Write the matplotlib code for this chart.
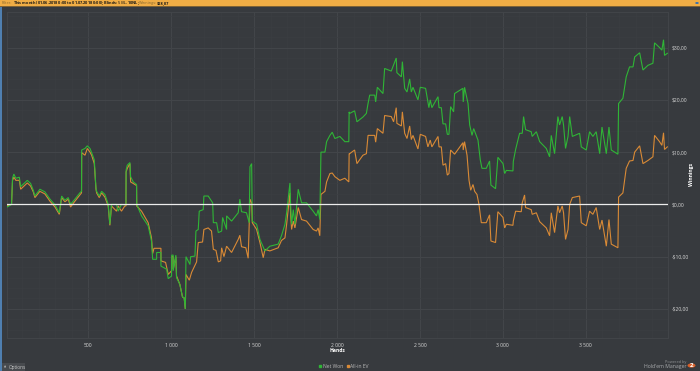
import matplotlib
matplotlib.use("Agg")
import matplotlib.pyplot as plt
from matplotlib.lines import Line2D
from matplotlib.patches import Rectangle, Circle
from matplotlib.ticker import MultipleLocator, FuncFormatter

net_hands = [7,11,37,43,51,63,84,92,112,132,152,168,178,208,238,269,299,325,339,359,379,393,419,449,459,
 460,480,494,510,520,536,546,550,566,580,600,620,630,640,670,680,700,720,727,728,735,751,755,771,791,
 792,821,861,881,888,912,912,938,938,972,982,1002,1003,1012,1012,1028,1032,1052,1068,1078,1085,1089,1113,1117,1143,
 1149,1163,1169,1193,1197,1223,1250,1254,1274,1284,1304,1310,1334,1334,1364,1404,1414,1424,1454,1470,1475,1485,1489,1515,1535,
 1565,1595,1645,1665,1686,1696,1716,1720,1726,1736,1746,1766,1786,1816,1856,1876,1886,1896,1903,1927,1937,1957,1971,1987,2017,
 2047,2071,2073,2076,2106,2120,2156,2177,2187,2197,2227,2233,2243,2277,2287,2327,2357,2361,2388,2394,2408,2422,2438,2448,2458,
 2488,2502,2534,2554,2562,2572,2609,2615,2629,2639,2655,2665,2675,2685,2703,2709,2759,2761,2769,2790,2800,2814,2824,2850,2864,
 2874,2900,2920,2928,2956,2970,3001,3011,3021,3061,3063,3077,3101,3117,3125,3137,3171,3177,3202,3222,3262,3282,3292,3312,3332,
 3342,3358,3366,3378,3393,3403,3419,3463,3473,3503,3523,3543,3563,3584,3598,3624,3640,3654,3694,3698,3724,3734,3744,3764,3785,
 3795,3825,3845,3875,3905,3915,3945,3959,3969,3975,3992]
net_won = [-0.3,-0.5,0,5,5.8,5,5.2,3.4,4,4.6,4,2.7,1.6,2.9,2.4,1,-0.1,-1.6,1.6,0.8,1.3,0,1,2.2,2.5,
 10.4,10.7,11.2,10.7,9.9,8.5,3.2,2.5,1.6,2.5,1.9,0,-3.8,0,0,-1.3,0,-0.1,0,6.6,7.5,8,5.3,4.3,3.8,
 0,-2.2,-4.1,-7,-10.5,-10.5,-9.2,-9.2,-11.8,-12.4,-14.2,-13.7,-9.7,-9.7,-12.7,-9.7,-14,-15.3,-17.7,-17.9,-20,-10,-11.5,-10,-9.9,
 -5.1,-4.8,-1.3,-1,1.6,1.6,0.3,-3.5,-3.5,-5.4,-5.1,-2.5,-4.8,-2.2,-3.2,-1.6,1,-1.4,-1.6,-3.5,7.2,7.8,-3.2,-3.8,-6.7,
 -8.9,-8,-7.6,-6,-3.8,-1.6,4.1,0,-3.8,-1,-3.8,2.9,0.3,0.3,-1.3,-2.2,-1,-2.9,10,10,12,13.2,13.8,12.6,13,
 12,12,17.7,17.4,17.9,15.8,16.7,17.4,19.3,20.9,20.9,19.6,22.4,21.2,26,25.5,28,25.2,24.4,27.3,22.2,21.5,24,21.5,22.4,
 20,22.4,22.2,18.5,20,18.5,20.6,18.5,18.5,15.4,15.4,13.4,13.4,18.7,17.7,21.2,22.2,19.6,22.4,19.3,15.2,13.2,14.5,12.3,8.5,
 6.9,6.9,8.3,3.7,3,9,7.8,5.9,6.5,6.4,8.2,10.5,13.6,13.6,16.8,14.3,13.9,13,13.9,12,10.7,9.1,13.2,9.7,16.8,
 15.2,16.8,15.2,10.7,13,16.8,13,13.6,11,10.4,13.9,13,13.9,9.7,14.8,9.7,14.8,10.4,9.6,19.3,20.3,22.4,24.4,26.3,26.3,
 28.2,29,25.7,26.6,27,30.9,30,29.5,31.5,28.5,28.9]

ev_hands = [7,37,43,51,63,84,92,112,132,152,168,178,208,238,269,299,325,339,359,379,393,419,449,459,
 460,480,494,510,520,536,546,550,566,580,600,620,630,640,670,680,700,720,727,728,735,751,755,771,791,
 792,821,861,881,888,896,938,938,966,982,1002,1003,1012,1012,1028,1032,1052,1068,1078,1085,1089,1109,1123,1153,1163,
 1189,1197,1223,1243,1254,1270,1284,1298,1304,1318,1334,1364,1404,1414,1424,1450,1464,1475,1485,1489,1515,1535,1555,1565,1595,
 1645,1665,1686,1696,1716,1720,1726,1736,1746,1766,1786,1816,1856,1876,1886,1896,1903,1927,1937,1957,1971,1987,2017,2047,2071,
 2073,2076,2106,2120,2156,2177,2187,2227,2233,2243,2277,2287,2327,2341,2357,2361,2388,2394,2408,2422,2438,2448,2458,2488,2502,
 2534,2548,2562,2572,2609,2615,2629,2639,2655,2665,2675,2685,2709,2759,2761,2769,2784,2796,2806,2820,2830,2844,2856,2870,2900,
 2920,2928,2956,2970,3001,3011,3021,3061,3063,3077,3111,3117,3131,3137,3171,3177,3202,3222,3262,3282,3292,3312,3332,3342,3358,
 3366,3378,3393,3403,3419,3463,3473,3503,3523,3543,3563,3584,3598,3624,3640,3654,3694,3698,3724,3734,3744,3764,3785,3795,3825,
 3845,3875,3905,3915,3945,3959,3969,3975,3992]
all_in_ev = [-0.3,0,4.6,5.2,4.6,4.6,2.9,3.5,4.1,3.5,2.4,1.3,2.5,2,0.6,-0.5,-1.9,1.3,0.5,1,-0.5,0.6,1.8,2.2,
 9.9,9.4,10.7,10,9.4,7.8,3,2.2,1.3,2.2,1.4,-0.3,-4,-0.3,-1.3,-0.3,-1.3,-0.3,-0.3,6.2,6.9,7.8,4.3,4,3.6,
 -0.3,-1.3,-3.5,-6.4,-9.4,-8.4,-8.4,-10.8,-11.1,-13.4,-12.7,-10,-10,-12.4,-10,-13.7,-15.3,-17.7,-17.9,-20,-13.4,-14.5,-13,-11,-7.3,
 -7.2,-4.8,-4.5,-5.1,-8.6,-8.8,-11,-10.8,-8.3,-10,-8,-9.2,-6.7,-5.9,-8.1,-8.3,-10.3,1,0.3,-3.5,-4.8,-7.3,-10.2,-8.6,-8.9,
 -8.3,-6.9,-6.4,-3.8,2.2,-1.9,-4.8,-3.2,-4.5,-0.6,-2.9,-3.2,-4.8,-5.1,-4.5,-6,1.9,2.5,4.3,5.9,6,5.3,4.6,5,4.3,
 9.7,9.7,10.4,7.8,9.4,9.7,13.2,13.2,11.9,14.5,13.6,17,16.8,15.8,18.5,15.5,15,17.7,13.6,12.6,15,12.4,13.2,10.6,13.4,
 13,11,12.3,11,13,11,11,7.5,7.8,5.6,5.9,10.4,9.6,11.8,10.4,12,9.4,4.6,2.7,3.8,2.5,1.9,0,-3.5,-3.5,
 -2,-7,-7.3,-1.4,-2.5,-4.5,-3.8,-4,-3.2,-1.3,-1.4,0.3,1.8,-0.6,-1,-1.9,-1.6,-3.3,-4.5,-6,-1.6,-5.4,-0.3,-1.6,-0.3,
 -1.6,-6.7,-4.8,0,1.3,1.6,-3.5,-4.1,-1.3,-1.9,-0.6,-4.8,-3,-8,-2.9,-7.6,-8.3,1.4,2.2,4.6,6.9,8.3,8.4,10,11.2,
 7.8,8.4,9.1,13.2,12,11.3,13.7,10.5,11]

x_ticks = [500, 1000, 1500, 2000, 2500, 3000, 3500]
y_ticks = [-20, -10, 0, 10, 20, 30]

BG = "#373a3e"
GREEN = "#2fb536"
ORANGE = "#d98a36"
W, H = 700, 371
plt.rcParams["font.family"] = ["Open Sans", "DejaVu Sans"]

fig = plt.figure(figsize=(7, 3.71), dpi=100, facecolor=BG)
L, R, T, B = 6.5, 668, 12, 337.7
ax = fig.add_axes([L/W, 1-B/H, (R-L)/W, (B-T)/H], facecolor=BG)
ax.set_xlim(6.6, 3996)
ax.set_ylim(-25.5, 36.8)

ax.xaxis.set_major_locator(plt.FixedLocator(x_ticks))
ax.yaxis.set_major_locator(plt.FixedLocator(y_ticks))
ax.xaxis.set_minor_locator(MultipleLocator(100))
ax.yaxis.set_minor_locator(MultipleLocator(2))
ax.xaxis.set_major_formatter(FuncFormatter(lambda v, p: f"{int(v):,}".replace(",", " ")))
ax.yaxis.set_major_formatter(FuncFormatter(lambda v, p: (f"-${abs(v):.2f}" if v < 0 else f"${v:.2f}").replace(".", ",")))
ax.yaxis.tick_right()
ax.grid(which="major", color="#424549", lw=0.8)
ax.grid(which="minor", color="#3b3e42", lw=0.5)
ax.set_axisbelow(True)
ax.tick_params(which="both", length=0)
ax.tick_params(axis="x", which="major", labelsize=3.6, labelcolor="#d8d8d8", pad=3.5)
ax.tick_params(axis="y", which="major", labelsize=3.6, labelcolor="#d8d8d8", pad=3)
for s in ["top", "right", "bottom", "left"]:
    ax.spines[s].set_color("#424549")
    ax.spines[s].set_linewidth(0.7)

ax.plot(ev_hands, all_in_ev, color=ORANGE, lw=0.8, zorder=3, solid_joinstyle="miter")
ax.plot(net_hands, net_won, color=GREEN, lw=0.8, zorder=4, solid_joinstyle="miter")
ax.axhline(0, color="#ececec", lw=0.9, zorder=5)

fig.text(337/W, 1-351/H, "Hands", color="white", fontsize=3.6, fontweight="bold", ha="center", va="center")
fig.text(691/W, 1-174/H, "Winnings", color="white", fontsize=3.6, fontweight="bold", rotation=90, ha="center", va="center")

# header bar and side stripe
fig.add_artist(Rectangle((0, 1-6/H), 1, 6/H, transform=fig.transFigure, color="#f0ad45", lw=0))
fig.add_artist(Rectangle((0, 1-7/H), 1, 1/H, transform=fig.transFigure, color="#7d6236", lw=0))
fig.add_artist(Rectangle((0, 0), 1.5/W, 1-7/H, transform=fig.transFigure, color="#4f7fb0", lw=0))
fig.add_artist(Circle((697/W, 1-3/H), 1.8/W, transform=fig.transFigure, color="#2f6fb5", lw=0))
fig.text(2/W, 1-3.2/H, "Filter:", color="#8a6a30", fontsize=2.9, va="center")
fig.text(13/W, 1-3.2/H, "This month (01.06.2018 0:00 to 01.07.2018 0:00); Blinds: $5NL,$10NL;",
         color="#1c1a16", fontsize=2.8, fontweight="bold", va="center")
fig.text(138.5/W, 1-3.2/H, "Winnings:", color="#8a6a30", fontsize=2.8, va="center")
fig.text(156.5/W, 1-3.2/H, "$28,87", color="#1c1a16", fontsize=2.8, fontweight="bold", va="center")

# legend
handles = [Line2D([], [], ls="", marker="s", ms=1.6, color=GREEN, label="Net Won"),
           Line2D([], [], ls="", marker="s", ms=1.6, color=ORANGE, label="All-in EV")]
fig.legend(handles=handles, loc="center", bbox_to_anchor=(344/W, 1-366.5/H), ncol=2, frameon=False,
           fontsize=3.6, labelcolor="#b8b8b8", handlelength=0.5, handletextpad=0.3, columnspacing=0.6,
           borderpad=0)

# options button
fig.add_artist(Rectangle((1.5/W, 0), 23.5/W, 8/H, transform=fig.transFigure, color="#474a4e", lw=0))
fig.text(9/W, 1-367/H, "Options", color="#c4c4c4", fontsize=3.4, va="center")
fig.text(3.5/W, 1-367/H, "▲", color="#c4c4c4", fontsize=2.0, va="center")

# branding
fig.text(686/W, 1-362/H, "Powered by", color="#8f9194", fontsize=2.8, ha="right", va="center")
fig.text(686/W, 1-366.8/H, "Hold'em Manager", color="#a8aaad", fontsize=3.7, ha="right", va="center")
fig.add_artist(Circle((691.5/W, 1-365.5/H), 4/W, transform=fig.transFigure, color="#d8602a", lw=0))
fig.text(691.5/W, 1-365.5/H, "2", color="white", fontsize=4.5, fontweight="bold", ha="center", va="center")

fig.savefig("out.png", dpi=100, facecolor=BG)
